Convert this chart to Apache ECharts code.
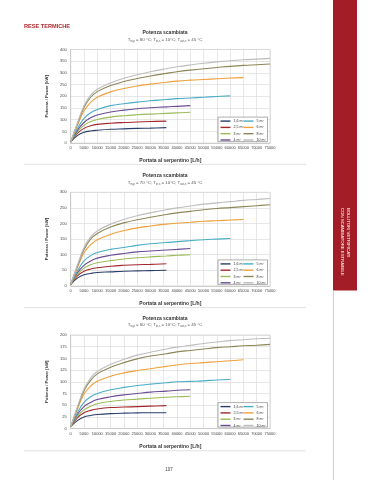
<!DOCTYPE html>
<html><head><meta charset="utf-8">
<script src="https://cdn.jsdelivr.net/npm/echarts@6/dist/echarts.min.js"></script>
<style>html,body{margin:0;padding:0;background:#fff}#c{width:374px;height:480px}</style>
</head><body><div id="c"></div>
<script>
// Flow rate (L/h) sample positions
const flows = [0,2500,5000,7500,10000,15000,20000,25000,30000,36000,40000,45000,50000,55000,60000,65000,70000,75000];
const surfaces = ['1,6 m²','2,5 m²','3 m²','4 m²','5 m²','6 m²','8 m²','10 m²'];
const colors = ['#2b3f6b','#a3282e','#9bbb59','#6a4c93','#4bacc6','#f0a03c','#8c8658','#bdbdbd'];
const primaryTemps = [80, 70, 60];
const yMaxes = [400, 300, 200];
const yIntervals = [50, 50, 25];

// Chart 1: T = 80 °C
const p80_16 = [5,32,46,52,55,59,61,63,64,66];
const p80_25 = [5,42,63,74,80,85,88,90,92,94];
const p80_3  = [5,48,76,92,101,111,117,121,124,127,129,132];
const p80_4  = [5,54,88,108,120,133,141,147,151,155,157,160];
const p80_5  = [5,62,106,130,144,160,168,175,181,186,190,193,196,199,202];
const p80_6  = [5,75,138,174,196,219,233,244,252,260,265,269,272,275,278,280];
const p80_8  = [5,82,152,196,220,246,263,276,287,298,305,312,318,323,328,332,335,338];
const p80_10 = [5,85,160,205,230,257,277,292,305,318,326,334,341,347,352,356,359,362];
// Chart 2: T = 70 °C
const p70_16 = [5,25,36,40,43,45,47,48,49,50];
const p70_25 = [5,32,47,54,58,63,66,68,69,71];
const p70_3  = [5,37,57,68,74,81,86,90,93,96,98,100];
const p70_4  = [5,42,66,80,89,98,104,109,112,115,117,120];
const p70_5  = [5,48,80,97,107,117,123,130,135,139,142,145,148,150,152];
const p70_6  = [5,58,106,132,148,165,177,186,192,198,201,204,207,209,211,213];
const p70_8  = [5,63,117,150,168,189,202,212,220,229,234,239,244,248,251,254,257,260];
const p70_10 = [5,66,123,157,176,198,213,225,234,244,250,256,262,266,270,274,277,280];
// Chart 3: T = 60 °C
const p60_16 = [4,17,25,28,30,32,33,33.5,34,34];
const p60_25 = [4,23,34,39,42,45,46,47,48,49];
const p60_3  = [4,26,40,48,53,58,61,63,65,67,68,69];
const p60_4  = [4,30,47,56,62,68,72,75,78,80,82,83];
const p60_5  = [4,34,56,68,75,83,88,92,95,98,100,101,102,104,105];
const p60_6  = [4,41,74,91,101,112,119,124,128,133,136,139,141,143,145,147];
const p60_8  = [4,44,81,103,117,131,141,149,155,160,164,167,170,173,175,177,178,180];
const p60_10 = [4,46,85,108,122,137,148,157,163,170,174,178,182,185,188,190,192,193];

const charts = [
  [p80_16,p80_25,p80_3,p80_4,p80_5,p80_6,p80_8,p80_10],
  [p70_16,p70_25,p70_3,p70_4,p70_5,p70_6,p70_8,p70_10],
  [p60_16,p60_25,p60_3,p60_4,p60_5,p60_6,p60_8,p60_10]
];

const FONT = 'Liberation Sans, Arial, sans-serif';
const gridTops = [49.5, 192.3, 335];
const gridH = 93.6;
const grids = [], xAxes = [], yAxes = [], series = [], legends = [], graphics = [];

gridTops.forEach((top, k) => {
  grids.push({left: 70.7, width: 199.3, top: top, height: gridH, show: true, borderColor: '#c8c8c8', borderWidth: 0.6, backgroundColor: 'transparent'});
  xAxes.push({
    type: 'value', gridIndex: k, min: 0, max: 75000, interval: 5000,
    name: 'Portata al serpentino [L/h]', nameLocation: 'middle', nameGap: 15.5,
    nameTextStyle: {fontFamily: FONT, fontSize: 5, fontWeight: 'bold', color: '#333'},
    axisLine: {show: true, lineStyle: {color: '#bfbfbf', width: 0.6}},
    axisTick: {show: false},
    axisLabel: {fontFamily: FONT, fontSize: 4, color: '#444', margin: 3, showMaxLabel: true, showMinLabel: true, hideOverlap: false, formatter: v => String(v)},
    splitLine: {show: true, lineStyle: {color: '#d6d6d6', width: 0.6}}
  });
  yAxes.push({
    type: 'value', gridIndex: k, min: 0, max: yMaxes[k], interval: yIntervals[k],
    name: 'Potenza / Power [kW]', nameLocation: 'middle', nameGap: 12.5, nameRotate: 90,
    nameTextStyle: {fontFamily: FONT, fontSize: 4.2, fontWeight: 'bold', color: '#333'},
    axisLine: {show: true, lineStyle: {color: '#bfbfbf', width: 0.6, type: 'dotted'}},
    axisTick: {show: false},
    axisLabel: {fontFamily: FONT, fontSize: 4, color: '#444', margin: 4, formatter: v => String(v)},
    splitLine: {show: true, lineStyle: {color: '#d6d6d6', width: 0.6}}
  });
  charts[k].forEach((vals, i) => {
    series.push({
      type: 'line', name: surfaces[i], xAxisIndex: k, yAxisIndex: k,
      data: vals.map((v, j) => [flows[j], v]),
      smooth: 0.4, showSymbol: false, symbol: 'none',
      lineStyle: {color: colors[i], width: 1.1}, itemStyle: {color: colors[i]},
      z: 3 + i
    });
  });
  const ly = top + gridH - 26;
  graphics.push({type: 'rect', shape: {x: 218, y: ly, width: 49.5, height: 24.5}, style: {fill: '#fff', stroke: '#777', lineWidth: 0.6}, z: 50});
  const lstyle = {orient: 'vertical', itemWidth: 10, itemHeight: 1.4, icon: 'rect', itemGap: 2.3, padding: 0, z: 60,
    textStyle: {fontFamily: FONT, fontSize: 3.6, color: '#333', padding: [0,0,0,-2]}, selectedMode: false};
  legends.push(Object.assign({}, lstyle, {left: 220.5, top: ly + 2, data: surfaces.slice(0,4)}));
  legends.push(Object.assign({}, lstyle, {left: 243.5, top: ly + 2, data: surfaces.slice(4)}));
  // titles
  graphics.push({type: 'text', x: 165, y: top - 16.5, z: 20, style: {text: 'Potenza scambiata', font: 'bold 5px ' + FONT, fill: '#333', align: 'center', verticalAlign: 'middle'}});
  graphics.push({type: 'text', x: 165, y: top - 10, z: 20, style: {
    text: 'T{s|in,p} = ' + primaryTemps[k] + ' °C; T{s|in,s} = 10°C; T{s|out,s} = 45 °C',
    font: '4.4px ' + FONT, fill: '#555', align: 'center', verticalAlign: 'middle',
    rich: {s: {fontSize: 2.8, fontFamily: FONT, fill: '#555', padding: [3,0,0,0]}}
  }});
});

// page decorations
graphics.push({type: 'text', x: 24, y: 26, style: {text: 'RESE TERMICHE', font: 'bold 5.6px ' + FONT, fill: '#b0282e', verticalAlign: 'middle'}});
graphics.push({type: 'rect', shape: {x: 333, y: 0, width: 24, height: 290.5}, style: {fill: '#a21d26'}});
graphics.push({type: 'line', shape: {x1: 333.5, y1: 290.5, x2: 333.5, y2: 480}, style: {stroke: '#e6c3d3', lineWidth: 1}});
graphics.push({type: 'text', x: 348.5, y: 208, rotation: -Math.PI/2, style: {text: 'BOLLITORI VETRIFICATI', font: '4.3px ' + FONT, fill: '#fff', verticalAlign: 'middle'}});
graphics.push({type: 'text', x: 342.5, y: 208, rotation: -Math.PI/2, style: {text: 'CON SCAMBIATORE ESTRAIBILE', font: '4.3px ' + FONT, fill: '#fff', verticalAlign: 'middle'}});
[164.3, 307.6, 450.8].forEach(y => graphics.push({type: 'line', shape: {x1: 24, y1: y, x2: 306, y2: y}, style: {stroke: '#d9d9d9', lineWidth: 0.8}}));
graphics.push({type: 'text', x: 169, y: 470, style: {text: '107', font: '4.5px ' + FONT, fill: '#444', align: 'center', verticalAlign: 'middle'}});

const chart = echarts.init(document.getElementById('c'), null, {renderer: 'canvas'});
chart.setOption({
  animation: false,
  backgroundColor: '#fff',
  grid: grids, xAxis: xAxes, yAxis: yAxes, series: series, legend: legends,
  graphic: graphics
});
</script></body></html>
